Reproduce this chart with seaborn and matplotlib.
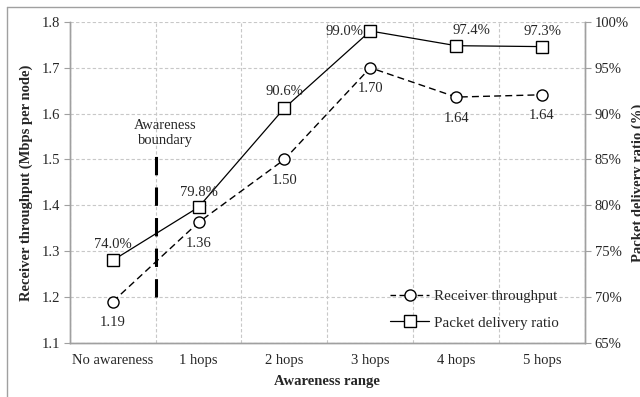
import matplotlib
matplotlib.use("Agg")
import matplotlib.pyplot as plt
import seaborn as sns
import pandas as pd
import numpy as np
from matplotlib.lines import Line2D

categories = ["No awareness", "1 hops", "2 hops", "3 hops", "4 hops", "5 hops"]
throughput = [1.19, 1.363, 1.50, 1.70, 1.636, 1.641]
throughput_labels = ["1.19", "1.36", "1.50", "1.70", "1.64", "1.64"]
pdr = [74.0, 79.8, 90.6, 99.0, 97.4, 97.3]
pdr_labels = ["74.0%", "79.8%", "90.6%", "99.0%", "97.4%", "97.3%"]
left_ticks = [1.1, 1.2, 1.3, 1.4, 1.5, 1.6, 1.7, 1.8]
right_ticks = [65, 70, 75, 80, 85, 90, 95, 100]

sns.set_style("white")
plt.rcParams['font.family'] = ['Liberation Serif', 'DejaVu Serif']
FS = 10.5

df = pd.DataFrame({"x": np.arange(len(categories)), "throughput": throughput, "pdr": pdr})

fig = plt.figure(figsize=(6.4, 3.97), dpi=100)
ax = fig.add_axes([0.109, 0.136, 0.805, 0.809])
ax2 = ax.twinx()

gray = "#a0a0a0"
MS = 8
sns.lineplot(data=df, x="x", y="throughput", ax=ax, color="black", lw=1.0,
             linestyle=(0, (5, 3)), marker="o", markersize=MS, markerfacecolor="white",
             markeredgecolor="black", markeredgewidth=1.0)
sns.lineplot(data=df, x="x", y="pdr", ax=ax2, color="black", lw=0.9,
             marker="s", markersize=MS, markerfacecolor="white",
             markeredgecolor="black", markeredgewidth=1.0)

ax.set_xlim(-0.5, len(categories) - 0.5)
ax.set_ylim(1.1, 1.8)
ax2.set_ylim(65, 100)
ax.set_yticks(left_ticks)
ax.set_yticklabels([f"{v:.1f}" for v in left_ticks], fontsize=FS)
ax2.set_yticks(right_ticks)
ax2.set_yticklabels([f"{v}%" for v in right_ticks], fontsize=FS)
ax.set_xticks(np.arange(len(categories)))
ax.set_xticklabels(categories, fontsize=FS)
ax.set_xticks(np.arange(-0.5, len(categories)), minor=True)
ax.tick_params(axis="x", which="major", length=0, pad=8)
ax.tick_params(axis="x", which="minor", length=4, color=gray, direction="out")
ax.tick_params(axis="y", length=4, color=gray, direction="out", pad=3)
ax2.tick_params(axis="y", length=4, color=gray, direction="out", pad=3)

ax.grid(True, axis="y", which="major", color="#c8c8c8", linestyle=(0, (3, 2)), lw=0.8)
ax.grid(True, axis="x", which="minor", color="#c8c8c8", linestyle=(0, (3, 2)), lw=0.8)
ax.grid(False, axis="x", which="major")
ax2.grid(False)
ax.set_axisbelow(True)

for a in (ax, ax2):
    a.spines["top"].set_visible(False)
    for s in ("left", "right", "bottom"):
        a.spines[s].set_color(gray)
        a.spines[s].set_linewidth(1.0)

ax.set_xlabel("Awareness range", fontsize=FS, fontweight="bold", labelpad=6)
ax.set_ylabel("Receiver throughput (Mbps per node)", fontsize=FS, fontweight="bold", labelpad=6)
ax2.set_ylabel("Packet delivery ratio (%)", fontsize=FS, fontweight="bold", labelpad=2)

# data labels
for i, (v, t) in enumerate(zip(throughput, throughput_labels)):
    ax.annotate(t, (i, v), xytext=(0, -10.5), textcoords="offset points",
                ha="center", va="top", fontsize=FS)
pdr_offsets = [(0, 7), (0, 6), (0, 7), (-5, 0), (11, 6), (0, 6)]
pdr_ha = ["center", "center", "center", "right", "center", "center"]
pdr_va = ["bottom", "bottom", "bottom", "center", "bottom", "bottom"]
for i, (v, t) in enumerate(zip(pdr, pdr_labels)):
    ax2.annotate(t, (i, v), xytext=pdr_offsets[i], textcoords="offset points",
                 ha=pdr_ha[i], va=pdr_va[i], fontsize=FS)

# awareness boundary
ax.plot([0.5, 0.5], [1.2, 1.52], color="black", lw=2.2, linestyle=(0, (6, 4)))
ax.text(0.61, 1.527, "Awareness\nboundary", ha="center", va="bottom", fontsize=FS,
        linespacing=1.25)

handles = [
    Line2D([], [], color="black", lw=1.0, linestyle=(0, (4, 2.5)), marker="o", markersize=MS,
           markerfacecolor="white", markeredgecolor="black"),
    Line2D([], [], color="black", lw=0.9, marker="s", markersize=MS,
           markerfacecolor="white", markeredgecolor="black"),
]
ax.legend(handles, ["Receiver throughput", "Packet delivery ratio"], loc="lower right",
          frameon=False, fontsize=10.8, bbox_to_anchor=(0.975, 0.0), handlelength=2.6,
          handletextpad=0.3, labelspacing=0.85)

# figure border
fig.add_artist(Line2D([7/640, 7/640], [0, 1 - 7/397], transform=fig.transFigure, color=gray, lw=1))
fig.add_artist(Line2D([7/640, 1], [1 - 7/397, 1 - 7/397], transform=fig.transFigure, color=gray, lw=1))

fig.savefig("out.png", dpi=100)
